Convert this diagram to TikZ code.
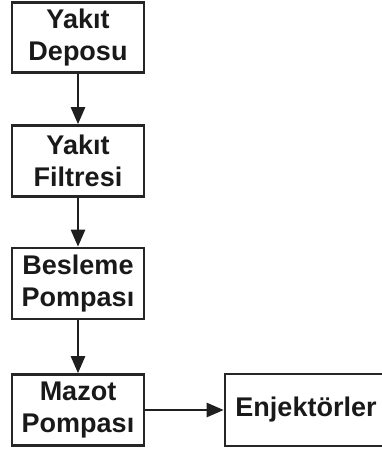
\documentclass[tikz,border=0pt]{standalone}
\usepackage{fontspec}
\setmainfont{Liberation Sans}
\usetikzlibrary{arrows.meta}
\begin{document}
\begin{tikzpicture}[x=1pt,y=-1pt,
  box/.style={draw=black!85, line width=2.6pt, rectangle, inner sep=0pt,
    minimum width=132pt, minimum height=71pt, align=center,
    font=\fontsize{27}{32}\selectfont\bfseries, text=black!90},
  conn/.style={line width=2.6pt, draw=black!88, -{Triangle[length=17pt,width=14pt]}}]
\clip (0,0) rectangle (382,450);
\node[box, minimum height=70pt] (depo) at (78,37.5) {Yakıt\\Deposu};
\node[box] (filtre) at (78,161) {Yakıt\\Filtresi};
\node[box] (besleme) at (78,283.5) {Besleme\\Pompası};
\node[box] (mazot) at (78,410) {Mazot\\Pompası};
\node[box, minimum width=162pt, minimum height=72pt] (enj) at (306,410) {Enjektörler};
\draw[conn] (depo) -- (filtre);
\draw[conn] (filtre) -- (besleme);
\draw[conn] (besleme) -- (mazot);
\draw[conn] (mazot) -- (enj);
\end{tikzpicture}
\end{document}
